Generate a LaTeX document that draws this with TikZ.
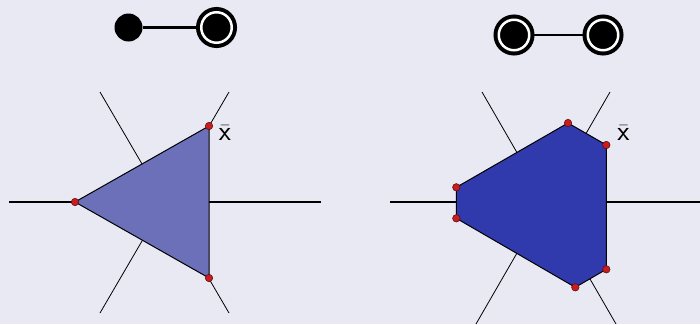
\documentclass[tikz,border=0pt]{standalone}
\usepackage{tikz}
\usetikzlibrary{positioning}
\definecolor{slidebg}{RGB}{233,233,243}
\definecolor{conefill}{RGB}{107,112,184}
\definecolor{polyfill}{RGB}{48,58,173}
\definecolor{vertred}{RGB}{200,28,30}
\tikzset{
  ray/.style={line width=0.8pt},
  axis/.style={line width=1.1pt},
  facet/.style={draw, line width=1pt, line join=round},
  vertex/.style={circle, fill=vertred, draw=black!60!vertred, line width=0.5pt,
    inner sep=0pt, minimum size=7.5pt},
  blackdot/.style={circle, fill=black, inner sep=0pt, minimum size=28pt},
  ringdot/.style={circle, fill=black, draw=black, inner sep=0pt, minimum size=30.5pt,
    line width=4pt, double=white, double distance=2.5pt},
  link/.style={line width=2.4pt},
  xlabel/.style={inner sep=0pt, font=\fontsize{28}{32}\selectfont\sffamily},
}

\begin{document}
\begin{tikzpicture}[x=1pt, y=-1pt]

\fill[slidebg] (0,0) rectangle (700,324);
\useasboundingbox (0,0) rectangle (700,324);
\clip (0,0) rectangle (700,324);

% Top left: plain dot joined to ringed dot
\node[blackdot] (dotA) at (128.5,27.5) {};
\node[ringdot] (ringA) at (216.5,27.5) {};
\draw[link] (dotA) -- (ringA);

% Top right: two ringed dots
\node[ringdot] (ringB) at (514,35) {};
\node[ringdot] (ringC) at (603,35) {};
\draw[link] (ringB) -- (ringC);

% Left fan and triangle
\draw[axis] (9,202) -- (321,202);
\draw[ray] (100,92) -- (229,313);
\draw[ray] (229,92) -- (100,313);
\coordinate (a1) at (75,202);
\coordinate (a2) at (209,126);
\coordinate (a3) at (209,278);
\filldraw[facet, fill=conefill] (a1) -- (a2) -- (a3) -- cycle;
\foreach \v in {a1,a2,a3} \node[vertex] (\v dot) at (\v) {};
\node[xlabel] (barA) at (225,133) {$\bar{\mbox{x}}$};

% Right fan and hexagon
\draw[axis] (390,202) -- (702,202);
\draw[ray] (482,92) -- (616,324);
\draw[ray] (610,92) -- (476,324);
\coordinate (b1) at (456.3,187.3);
\coordinate (b2) at (568,123);
\coordinate (b3) at (606.3,145);
\coordinate (b4) at (606.3,269.3);
\coordinate (b5) at (575.3,287.3);
\coordinate (b6) at (456.3,218.3);
\filldraw[facet, fill=polyfill] (b1) -- (b2) -- (b3) -- (b4) -- (b5) -- (b6) -- cycle;
\foreach \v in {b1,b2,b3,b4,b5,b6} \node[vertex] (\v dot) at (\v) {};
\node[xlabel] (barB) at (623.5,133) {$\bar{\mbox{x}}$};

\end{tikzpicture}
\end{document}
